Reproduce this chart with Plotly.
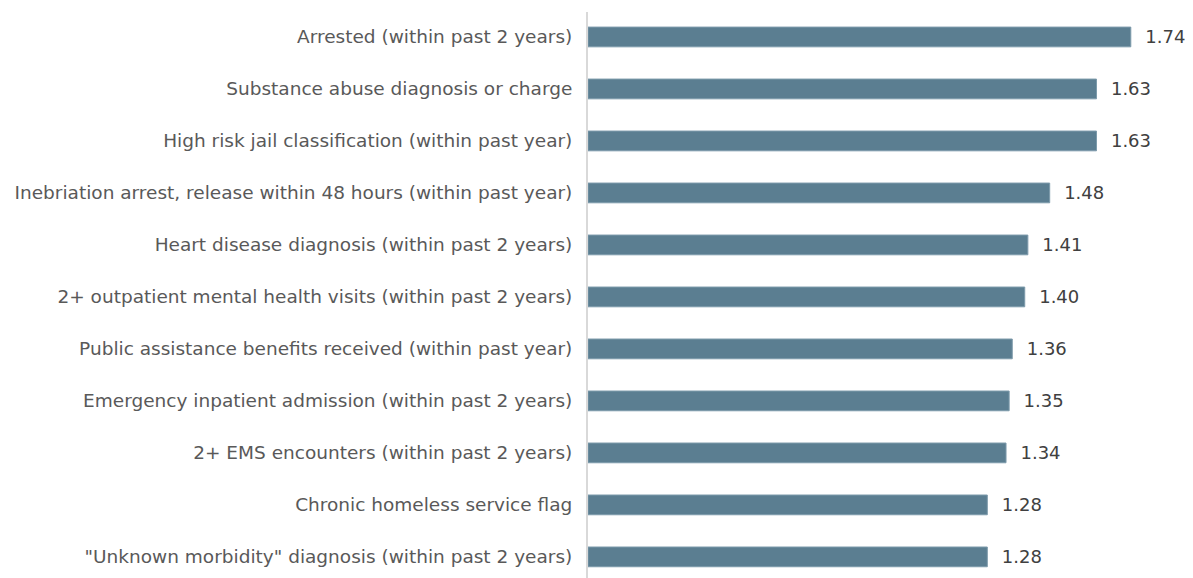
import plotly.graph_objects as go

categories = [
    "Arrested (within past 2 years)",
    "Substance abuse diagnosis or charge",
    "High risk jail classification (within past year)",
    "Inebriation arrest, release within 48 hours (within past year)",
    "Heart disease diagnosis (within past 2 years)",
    "2+ outpatient mental health visits (within past 2 years)",
    "Public assistance benefits received (within past year)",
    "Emergency inpatient admission (within past 2 years)",
    "2+ EMS encounters (within past 2 years)",
    "Chronic homeless service flag",
    "\"Unknown morbidity\" diagnosis (within past 2 years)",
]
values = [1.74, 1.63, 1.63, 1.48, 1.41, 1.40, 1.36, 1.35, 1.34, 1.28, 1.28]

BAR_COLOR = "#5b7e91"
FONT = "DejaVu Sans"

fig = go.Figure(
    go.Bar(
        x=values,
        y=categories,
        orientation="h",
        width=0.38,
        marker=dict(color=BAR_COLOR, line=dict(color="#7d9aab", width=1)),
        text=["\u00a0\u00a0" + f"{v:.2f}" for v in values],
        textposition="outside",
        constraintext="none",
        cliponaxis=False,
        textfont=dict(size=18, color="#404040", family=FONT),
    )
)
fig.update_layout(
    width=1193,
    height=578,
    margin=dict(t=4, b=0, l=580, r=0),
    paper_bgcolor="white",
    plot_bgcolor="white",
    showlegend=False,
    font=dict(family=FONT, color="#595959", size=18),
    xaxis=dict(range=[0, 1.965], visible=False, showgrid=False, zeroline=False),
    yaxis=dict(
        range=[10.56, -0.48],
        automargin=False,
        showgrid=False,
        zeroline=False,
        showline=True,
        linecolor="#d9d9d9",
        linewidth=2,
        ticks="",
        ticklabelstandoff=10,
        tickfont=dict(size=18.5, color="#595959", family=FONT),
    ),
)
fig.write_html("out.html")
